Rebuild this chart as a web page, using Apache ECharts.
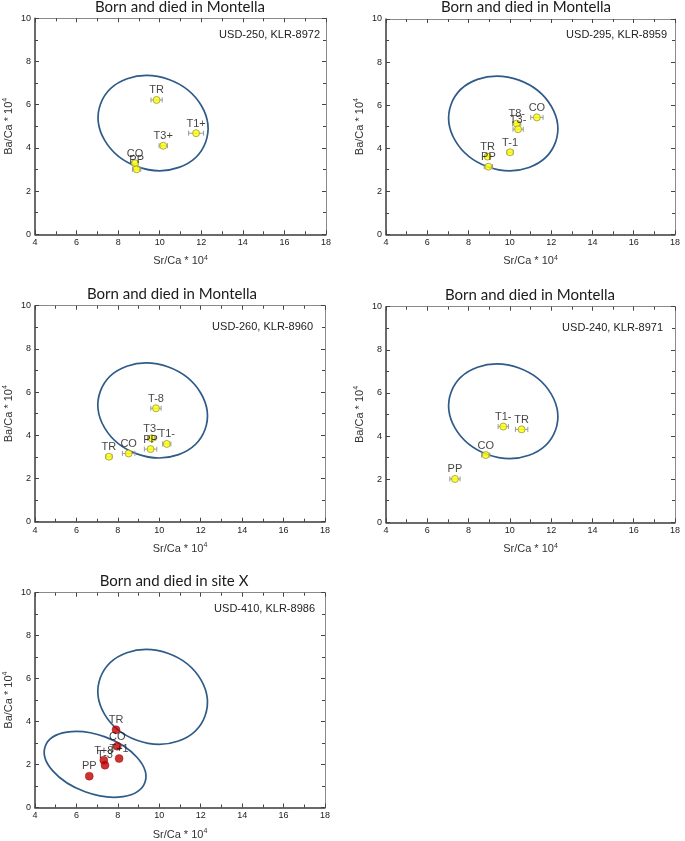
<!DOCTYPE html>
<html>
<head>
<meta charset="utf-8">
<script src="https://cdn.jsdelivr.net/npm/echarts@6/dist/echarts.min.js"></script>
<style>
html,body{margin:0;padding:0;background:#fff;}
#chart{width:685px;height:841px;}
</style>
</head>
<body>
<div id="chart"></div>
<script>
// ---------- data ----------
const panelTitles = ['Born and died in Montella','Born and died in Montella','Born and died in Montella','Born and died in Montella','Born and died in site X'];
const panelIds = ['USD-250, KLR-8972','USD-295, KLR-8959','USD-260, KLR-8960','USD-240, KLR-8971','USD-410, KLR-8986'];
const xAxisName = 'Sr/Ca * 10';
const yAxisName = 'Ba/Ca * 10';
const axisExponent = '4';
const xRange = [4, 18];
const yRange = [0, 10];

const p1Labels = ['TR','T1+','T3+','CO','PP'];
const p1Sr  = [9.85, 11.75, 10.17, 8.81, 8.89];
const p1Ba  = [6.22, 4.68, 4.10, 3.29, 3.01];
const p1Err = [0.27, 0.36, 0.20, 0.15, 0.20];

const p2Labels = ['CO','T8-','T3-','T-1','TR','PP'];
const p2Sr  = [11.31, 10.33, 10.40, 10.01, 8.92, 8.96];
const p2Ba  = [5.43, 5.14, 4.88, 3.81, 3.61, 3.14];
const p2Err = [0.30, 0.20, 0.25, 0.15, 0.10, 0.20];

const p3Labels = ['T-8','T3-','PP','T1-','CO','TR'];
const p3Sr  = [9.84, 9.63, 9.58, 10.36, 8.52, 7.57];
const p3Ba  = [5.25, 3.86, 3.36, 3.60, 3.16, 3.01];
const p3Err = [0.25, 0.20, 0.30, 0.20, 0.30, 0.15];

const p4Labels = ['T1-','TR','CO','PP'];
const p4Sr  = [9.68, 10.57, 8.83, 7.34];
const p4Ba  = [4.44, 4.31, 3.12, 2.01];
const p4Err = [0.25, 0.30, 0.20, 0.25];

const p5Labels = ['TR','CO','T+1','T+8','T-3','PP'];
const p5Sr  = [7.91, 7.97, 8.06, 7.32, 7.38, 6.62];
const p5Ba  = [3.62, 2.85, 2.28, 2.20, 1.97, 1.46];
const p5Err = [0, 0, 0, 0, 0, 0];

// reference ellipses: [centre Sr, centre Ba, semi-major, semi-minor (Sr units), tilt deg]
const montellaEllipse = [9.68, 5.15, 2.69, 2.23, 20];
const siteXEllipse    = [6.9, 2.01, 2.56, 1.41, 20];

const panels = [
  {labels:p1Labels, sr:p1Sr, ba:p1Ba, err:p1Err, ellipses:[montellaEllipse], red:false},
  {labels:p2Labels, sr:p2Sr, ba:p2Ba, err:p2Err, ellipses:[montellaEllipse], red:false},
  {labels:p3Labels, sr:p3Sr, ba:p3Ba, err:p3Err, ellipses:[montellaEllipse], red:false},
  {labels:p4Labels, sr:p4Sr, ba:p4Ba, err:p4Err, ellipses:[montellaEllipse], red:false},
  {labels:p5Labels, sr:p5Sr, ba:p5Ba, err:p5Err, ellipses:[montellaEllipse, siteXEllipse], red:true}
];

// ---------- layout ----------
const layout = [
  {l:35,  t:18.3,  w:291, h:216},
  {l:386, t:19,    w:289, h:215.3},
  {l:35,  t:305.7, w:290, h:216},
  {l:386, t:306.7, w:289, h:215.6},
  {l:35,  t:592.7, w:290, h:215.3}
];
const titlePos = [[180,0],[526,0],[172,287],[530,288],[174,574]];
const idPos = [[365,29],[18,29],[372,321],[22,322],[370,603]];

const FONT = '"Liberation Sans", Arial, sans-serif';
const rich = {
  a:{fontSize:11, fontFamily:FONT, color:'#333'},
  s:{fontSize:7, fontFamily:FONT, color:'#333', padding:[0,0,7,0]}
};

const option = {
  backgroundColor:'#fff',
  animation:false,
  title:[], grid:[], xAxis:[], yAxis:[], series:[]
};

function axisCommon() {
  return {
    axisTick:{show:true, inside:true, length:4, lineStyle:{color:'#444', width:1}},
    minorTick:{show:true, splitNumber:2, length:3, lineStyle:{color:'#444', width:1}},
    splitLine:{show:false}
  };
}

panels.forEach((p, i) => {
  const L = layout[i];
  option.grid.push({left:L.l, top:L.t, width:L.w, height:L.h, show:false});
  option.title.push({
    text:panelTitles[i], left:titlePos[i][0], top:titlePos[i][1], textAlign:'center', padding:0,
    textStyle:{fontFamily:'Lato, "Open Sans", sans-serif', fontSize:15, fontWeight:'normal', color:'#1a1a1a'}
  });
  option.title.push({
    text:panelIds[i], right:idPos[i][0], top:idPos[i][1], padding:0,
    textStyle:{fontFamily:FONT, fontSize:11, fontWeight:'normal', color:'#222'}
  });
  option.xAxis.push(Object.assign(axisCommon(), {
    type:'value', gridIndex:i, position:'bottom', min:xRange[0], max:xRange[1], interval:2,
    axisLine:{show:true, onZero:false, lineStyle:{color:'#3a3a3a', width:1.5}},
    axisLabel:{show:true, fontSize:9, fontFamily:FONT, color:'#222', margin:4},
    name:'{a|' + xAxisName + '}{s|' + axisExponent + '}', nameLocation:'middle', nameGap:20,
    nameTextStyle:{rich:rich}
  }));
  option.xAxis.push(Object.assign(axisCommon(), {
    type:'value', gridIndex:i, position:'top', min:xRange[0], max:xRange[1], interval:2,
    axisLine:{show:true, onZero:false, lineStyle:{color:'#8a8a8a', width:1}},
    axisLabel:{show:false}
  }));
  option.yAxis.push(Object.assign(axisCommon(), {
    type:'value', gridIndex:i, position:'left', min:yRange[0], max:yRange[1], interval:2,
    axisLine:{show:true, onZero:false, lineStyle:{color:'#3a3a3a', width:1.5}},
    axisLabel:{show:true, fontSize:9, fontFamily:FONT, color:'#222', margin:4},
    name:'{a|' + yAxisName + '}{s|' + axisExponent + '}', nameLocation:'middle', nameGap:19,
    nameRotate:90, nameTextStyle:{rich:rich}
  }));
  option.yAxis.push(Object.assign(axisCommon(), {
    type:'value', gridIndex:i, position:'right', min:yRange[0], max:yRange[1], interval:2,
    axisLine:{show:true, onZero:false, lineStyle:{color:'#8a8a8a', width:1}},
    axisLabel:{show:false}
  }));

  const xi = 2*i, yi = 2*i;
  option.series.push({
    type:'custom', xAxisIndex:xi, yAxisIndex:yi, silent:true, clip:false, z:2,
    encode:{x:0, y:1},
    data:p.ellipses,
    renderItem:function(params, api){
      const c = api.coord([api.value(0), api.value(1)]);
      const s = api.size([1, 1]);
      return {
        type:'ellipse', x:c[0], y:c[1], rotation:-api.value(4)*Math.PI/180,
        shape:{cx:0, cy:0, rx:api.value(2)*s[0], ry:api.value(3)*s[0]},
        style:{fill:null, stroke:'#2f5b88', lineWidth:1.7}
      };
    }
  });
  if (!p.red) {
    option.series.push({
      type:'custom', xAxisIndex:xi, yAxisIndex:yi, silent:true, z:3,
      encode:{x:0, y:1},
      data:p.sr.map((x,k)=>[x, p.ba[k], p.err[k]]),
      renderItem:function(params, api){
        const x = api.value(0), y = api.value(1), e = api.value(2);
        const a = api.coord([x-e, y]), b = api.coord([x+e, y]);
        const st = {stroke:'#9a9a9a', lineWidth:1};
        return {type:'group', children:[
          {type:'line', shape:{x1:a[0], y1:a[1], x2:b[0], y2:b[1]}, style:st},
          {type:'line', shape:{x1:a[0], y1:a[1]-2.5, x2:a[0], y2:a[1]+2.5}, style:st},
          {type:'line', shape:{x1:b[0], y1:b[1]-2.5, x2:b[0], y2:b[1]+2.5}, style:st}
        ]};
      }
    });
  }
  option.series.push({
    type:'scatter', xAxisIndex:xi, yAxisIndex:yi, z:4,
    symbol:'circle', symbolSize:p.red ? 8 : 7,
    itemStyle:p.red ? {color:'#c00000', borderColor:'#900000', borderWidth:0.5}
                    : {color:'#ffff00', borderColor:'#9a9a40', borderWidth:1},
    label:{show:true, position:'top', distance:0, formatter:'{b}',
      fontSize:11, fontFamily:FONT, color:'#111'},
    labelLayout:{hideOverlap:false},
    data:p.sr.map((x,k)=>({name:p.labels[k], value:[x, p.ba[k]]}))
  });
});

const chart = echarts.init(document.getElementById('chart'), null, {renderer:'canvas'});
chart.setOption(option);
</script>
</body>
</html>
